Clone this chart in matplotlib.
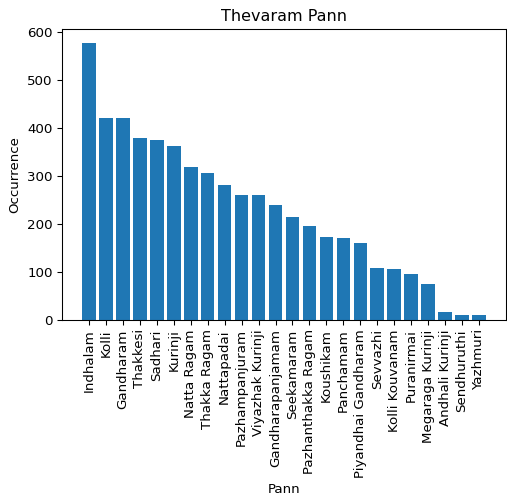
import matplotlib
matplotlib.use("Agg")
import matplotlib.pyplot as plt

pann = [
    "Indhalam", "Kolli", "Gandharam", "Thakkesi", "Sadhari", "Kurinji",
    "Natta Ragam", "Thakka Ragam", "Nattapadai", "Pazhampanjuram",
    "Viyazhak Kurinji", "Gandharapanjamam", "Seekamaram", "Pazhanthakka Ragam",
    "Koushikam", "Panchamam", "Piyandhai Gandharam", "Sevvazhi",
    "Kolli Kouvanam", "Puranirmai", "Megaraga Kurinji", "Andhali Kurinji",
    "Sendhuruthi", "Yazhmuri",
]
occurrence = [
    577, 421, 421, 379, 374, 363, 319, 307, 282, 260, 260, 240, 214, 195,
    173, 170, 161, 109, 106, 95, 75, 16, 11, 11,
]

DPI = 96
fig = plt.figure(figsize=(507 / DPI, 501 / DPI), dpi=DPI)
ax = fig.add_axes([62 / 507, (501 - 320) / 501, 444 / 507, 291 / 501])

ax.bar(pann, occurrence)
ax.set_title("Thevaram Pann")
ax.set_xlabel("Pann")
ax.set_ylabel("Occurrence")
ax.tick_params(axis="x", labelrotation=90)

fig.savefig("out.png", dpi=DPI)
